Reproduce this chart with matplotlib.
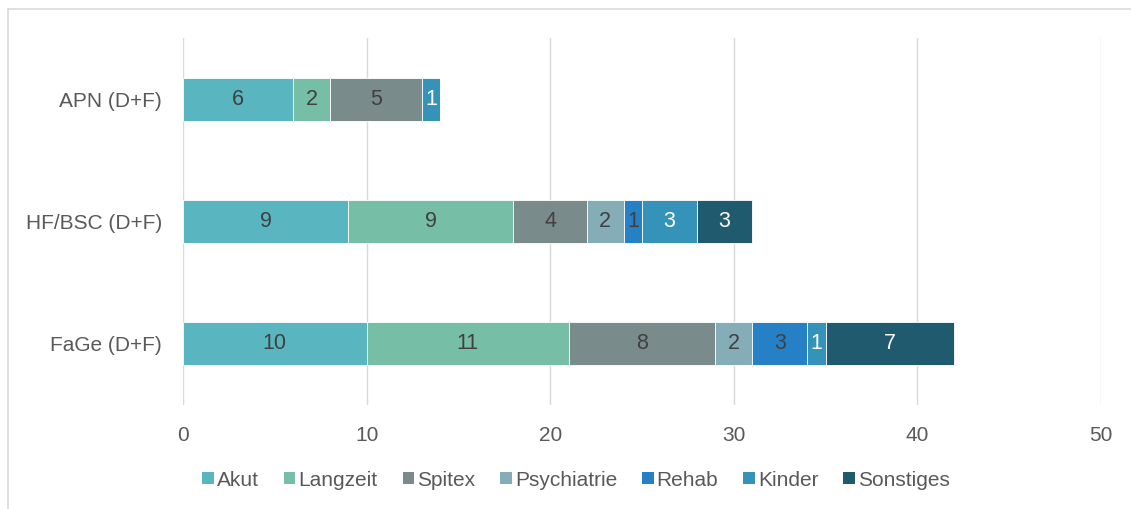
import matplotlib
matplotlib.use("Agg")
import matplotlib.pyplot as plt
from matplotlib.patches import Patch
from matplotlib.lines import Line2D

plt.rcParams['font.family'] = ['Liberation Sans', 'DejaVu Sans']

categories = ["FaGe (D+F)", "HF/BSC (D+F)", "APN (D+F)"]
series = ["Akut", "Langzeit", "Spitex", "Psychiatrie", "Rehab", "Kinder", "Sonstiges"]
akut = [10, 9, 6]
langzeit = [11, 9, 2]
spitex = [8, 4, 5]
psychiatrie = [2, 2, 0]
rehab = [3, 1, 0]
kinder = [1, 3, 1]
sonstiges = [7, 3, 0]
values = [akut, langzeit, spitex, psychiatrie, rehab, kinder, sonstiges]
colors = ["#59B5BF", "#76BEA5", "#7A8B8C", "#84ADB7", "#2680C6", "#3593BA", "#1F5A6F"]
label_colors = ["#404040", "#404040", "#404040", "#404040", "#404040", "#FFFFFF", "#FFFFFF"]

W, H = 1131, 509
fig = plt.figure(figsize=(W / 100, H / 100), dpi=100)
ax = fig.add_axes([183 / W, 1 - 405 / H, (1101 - 183) / W, (405 - 38) / H])

ypos = list(range(len(categories)))
left = [0] * len(categories)
for s, vals, c, lc in zip(series, values, colors, label_colors):
    bars = ax.barh(ypos, vals, left=left, height=0.35, color=c, edgecolor="white",
                   linewidth=0.6, label=s, zorder=3)
    for b, v in zip(bars, vals):
        if v > 0:
            ax.text(b.get_x() + b.get_width() / 2, b.get_y() + b.get_height() / 2,
                    str(v), ha="center", va="center", color=lc, fontsize=15.5, zorder=4)
    left = [l + v for l, v in zip(left, vals)]

ax.set_xlim(0, 50)
ax.set_ylim(-0.5, 2.5)
ax.set_xticks(range(0, 51, 10))
ax.set_yticks(ypos)
ax.set_yticklabels(categories)
ax.xaxis.grid(True, color="#D9D9D9", linewidth=1.0, zorder=0)
ax.set_axisbelow(True)
for sp in ax.spines.values():
    sp.set_visible(False)
ax.tick_params(axis="both", length=0, labelsize=15, labelcolor="#595959")
ax.tick_params(axis="x", pad=15)
ax.tick_params(axis="y", pad=15)

handles = [Patch(facecolor=c, edgecolor="none") for c in colors]
fig.legend(handles, series, loc="center", bbox_to_anchor=(576 / W, 1 - 480 / H), ncol=7,
           frameon=False, fontsize=15, handlelength=0.55, handleheight=0.55,
           handletextpad=0.15, columnspacing=1.2, labelcolor="#595959")

# outer frame (top and left visible)
fig.add_artist(Line2D([8 / W, 1.0], [1 - 9 / H, 1 - 9 / H], color="#D9D9D9", linewidth=1.2,
                      transform=fig.transFigure))
fig.add_artist(Line2D([8 / W, 8 / W], [0, 1 - 9 / H], color="#D9D9D9", linewidth=1.2,
                      transform=fig.transFigure))

fig.savefig("out.png", dpi=100, facecolor="white")
